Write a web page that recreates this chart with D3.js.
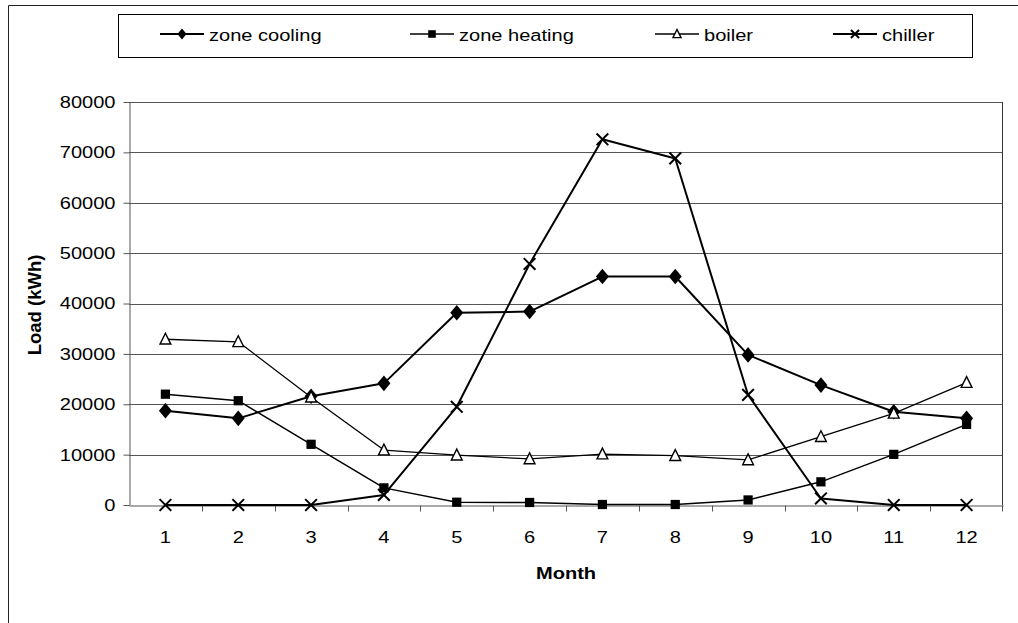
<!DOCTYPE html>
<html>
<head>
<meta charset="utf-8">
<script src="https://cdn.jsdelivr.net/npm/d3@7"></script>
<style>
  body { margin: 0; background: #fff; }
  svg { display: block; font-family: "Liberation Sans", Arial, sans-serif; }
</style>
</head>
<body>
<svg id="chart" width="1018" height="623"></svg>
<script>
// data
var months = [1, 2, 3, 4, 5, 6, 7, 8, 9, 10, 11, 12];
var zoneCooling = [18700, 17200, 21600, 24150, 38150, 38400, 45350, 45350, 29800, 23800, 18500, 17200];
var zoneHeating = [22000, 20700, 12050, 3400, 550, 500, 100, 100, 1000, 4600, 10050, 16000];
var boiler = [32900, 32400, 21400, 10900, 9900, 9150, 10100, 9800, 8950, 13550, 18200, 24300];
var chiller = [0, 0, 0, 2000, 19500, 47850, 72600, 68800, 21850, 1300, 0, 0];
var yTicks = [0, 10000, 20000, 30000, 40000, 50000, 60000, 70000, 80000];

var seriesNames = ["zone cooling", "zone heating", "boiler", "chiller"];
var seriesValues = [zoneCooling, zoneHeating, boiler, chiller];

var stretch = 1.18; // the scan is a bit wider than normal Arial

var svg = d3.select("#chart");

var marginLeft = 129, marginRight = 1003, marginTop = 102, marginBottom = 505;

var x = d3.scaleBand().domain(months).range([marginLeft, marginRight]);
var y = d3.scaleLinear().domain([0, 80000]).range([marginBottom, marginTop]);

// outer frame
svg.append("path")
    .attr("d", "M8.5,623 V5.5 H1018")
    .attr("fill", "none")
    .attr("stroke", "#222")
    .attr("stroke-width", 1);

// gridlines
svg.append("g")
    .selectAll("line")
    .data(yTicks.filter(d => d > 0))
    .join("line")
    .attr("x1", marginLeft)
    .attr("x2", marginRight)
    .attr("y1", d => Math.round(y(d)) + 0.5)
    .attr("y2", d => Math.round(y(d)) + 0.5)
    .attr("stroke", "#555")
    .attr("stroke-width", 1);

// right side of plot area
svg.append("line")
    .attr("x1", marginRight - 0.5).attr("x2", marginRight - 0.5)
    .attr("y1", y(80000)).attr("y2", y(0))
    .attr("stroke", "#333");

// y axis
svg.append("g")
    .attr("transform", `translate(${marginLeft + 0.5},0)`)
    .call(d3.axisLeft(y).tickValues(yTicks).tickSize(6).tickSizeOuter(0).tickFormat(d3.format("d")))
    .call(g => g.select(".domain").attr("stroke", "#555"))
    .call(g => g.selectAll(".tick line").attr("stroke", "#555"))
    .call(g => g.selectAll(".tick text")
        .attr("x", -14 / stretch)
        .attr("transform", `scale(${stretch},1)`)
        .attr("font-size", 17)
        .attr("fill", "#000"));

// x axis: labels centred on months, ticks between them
var xAxis = svg.append("g")
    .attr("transform", `translate(0,${Math.round(y(0)) + 0.5})`)
    .call(d3.axisBottom(x).tickSize(0).tickPadding(25))
    .call(g => g.select(".domain").attr("stroke", "#555"))
    .call(g => g.selectAll(".tick text")
        .attr("transform", `scale(${stretch},1)`)
        .attr("font-size", 17)
        .attr("fill", "#000"));

xAxis.append("g")
    .selectAll("line")
    .data(months.slice(1).concat(["end"]))
    .join("line")
    .attr("x1", d => d === "end" ? marginRight - 0.5 : Math.round(x(d)) + 0.5)
    .attr("x2", d => d === "end" ? marginRight - 0.5 : Math.round(x(d)) + 0.5)
    .attr("y1", 0)
    .attr("y2", 6)
    .attr("stroke", "#555");

// axis titles
svg.append("text")
    .attr("transform", `translate(${(marginLeft + marginRight) / 2},579) scale(${stretch},1)`)
    .attr("text-anchor", "middle")
    .attr("font-size", 17)
    .attr("font-weight", "bold")
    .text("Month");

svg.append("text")
    .attr("transform", `translate(41,305) rotate(-90)`)
    .attr("text-anchor", "middle")
    .attr("font-size", 18.5)
    .attr("font-weight", "bold")
    .text("Load (kWh)");

// markers
function drawMarker(g, type, cx, cy, s) {
    if (type === 0) {
        g.append("path")
            .attr("d", `M${cx},${cy - s * 0.6} L${cx + s * 0.5},${cy} L${cx},${cy + s * 0.6} L${cx - s * 0.5},${cy} Z`)
            .attr("fill", "#000");
    } else if (type === 1) {
        g.append("rect")
            .attr("x", cx - s * 0.42).attr("y", cy - s * 0.42)
            .attr("width", s * 0.84).attr("height", s * 0.84)
            .attr("fill", "#000");
    } else if (type === 2) {
        g.append("path")
            .attr("d", `M${cx},${cy - s * 0.5} L${cx + s * 0.45},${cy + s * 0.4} L${cx - s * 0.45},${cy + s * 0.4} Z`)
            .attr("fill", "#fff")
            .attr("stroke", "#000")
            .attr("stroke-width", 1.4);
    } else {
        var h = s * 0.45;
        g.append("path")
            .attr("d", `M${cx - h},${cy - h} L${cx + h},${cy + h} M${cx - h},${cy + h} L${cx + h},${cy - h}`)
            .attr("stroke", "#000")
            .attr("stroke-width", 2);
    }
}

var lineWidths = [2, 1.5, 1.3, 2];
var markerSizes = [13, 11, 12, 13];

var line = d3.line()
    .x((d, i) => x(months[i]) + x.bandwidth() / 2)
    .y(d => y(d));

seriesValues.forEach(function (vals, k) {
    var g = svg.append("g");
    g.append("path")
        .attr("d", line(vals))
        .attr("fill", "none")
        .attr("stroke", "#000")
        .attr("stroke-width", lineWidths[k])
        .attr("stroke-linejoin", "round");
    vals.forEach(function (v, i) {
        drawMarker(g, k, x(months[i]) + x.bandwidth() / 2, y(v), markerSizes[k]);
    });
});

// legend
svg.append("rect")
    .attr("x", 118.5).attr("y", 14.5)
    .attr("width", 854).attr("height", 43)
    .attr("fill", "#fff")
    .attr("stroke", "#000");

var legendX = [160, 410, 655, 833];

seriesNames.forEach(function (name, k) {
    var g = svg.append("g");
    var lx = legendX[k];
    g.append("line")
        .attr("x1", lx).attr("x2", lx + 44)
        .attr("y1", 34).attr("y2", 34)
        .attr("stroke", "#000")
        .attr("stroke-width", lineWidths[k]);
    drawMarker(g, k, lx + 22, 34, 9);
    g.append("text")
        .attr("transform", `translate(${lx + 49},41) scale(${stretch},1)`)
        .attr("font-size", 17)
        .text(name);
});
</script>
</body>
</html>
